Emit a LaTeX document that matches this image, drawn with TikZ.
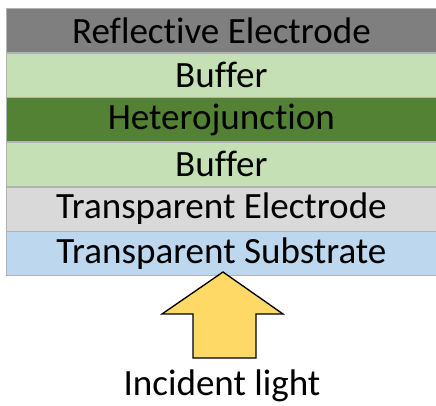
\documentclass[tikz,border=0pt]{standalone}
\usepackage{fontspec}
\setmainfont{Carlito}[Ligatures=NoCommon]
\usepackage{tikz}
\usetikzlibrary{positioning}

\definecolor{reflgray}{HTML}{7F7F7F}
\definecolor{buffergreen}{HTML}{C5E0B4}
\definecolor{heterogreen}{HTML}{548235}
\definecolor{electrodegray}{HTML}{D9D9D9}
\definecolor{substrateblue}{HTML}{BDD7EE}
\definecolor{lightyellow}{HTML}{FFD966}

\begin{document}
\begin{tikzpicture}[x=0.75pt, y=-0.75pt,
                    every node/.style = {font=\fontsize{27.8}{32}\selectfont},
                    layer/.style = {shape=rectangle, draw=black!30, line width=0.6pt,
                                    inner sep=0pt, minimum width=322.5pt, minimum height=32.9pt},
                    lightarrow/.style = {draw=black, fill=lightyellow, line width=1pt, line join=miter}]

  \useasboundingbox (0,0) rectangle (436,406);

  % layer stack, top to bottom
  \node[layer, fill=reflgray, anchor=north west] (refl) at (6,8) {Reflective Electrode};
  \node[layer, fill=buffergreen, below=0pt of refl] (buf1) {Buffer};
  \node[layer, fill=heterogreen, below=0pt of buf1] (hetero) {Heterojunction};
  \node[layer, fill=buffergreen, below=0pt of hetero] (buf2) {Buffer};
  \node[layer, fill=electrodegray, below=0pt of buf2] (tel) {Transparent Electrode};
  \node[layer, fill=substrateblue, below=0pt of tel] (tsub) {Transparent Substrate};

  % incoming light
  \draw[lightarrow] (223,272) -- (283,314) -- (256,314) -- (256,358)
                    -- (193,358) -- (193,314) -- (162,314) -- cycle;
  \node (label) at (222,386) {Incident light};
\end{tikzpicture}
\end{document}
